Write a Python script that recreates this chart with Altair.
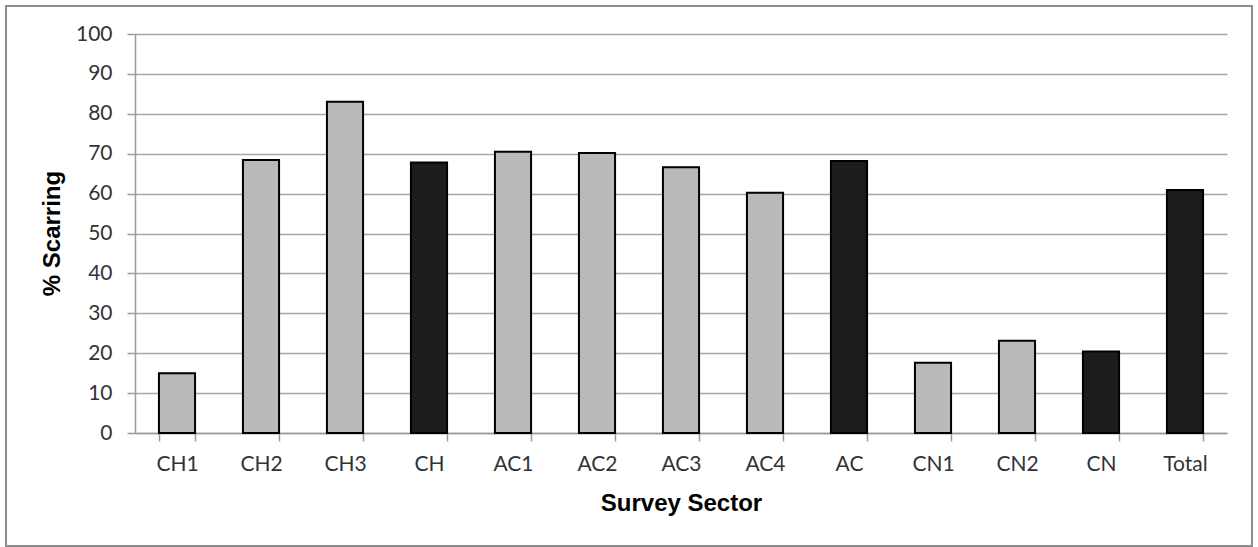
import altair as alt
import pandas as pd

# Survey sectors, scarring percentages and whether each bar is a sector total
sectors = ["CH1", "CH2", "CH3", "CH", "AC1", "AC2", "AC3", "AC4", "AC", "CN1", "CN2", "CN", "Total"]
scarring = [15.0, 68.4, 83.0, 67.8, 70.5, 70.2, 66.6, 60.2, 68.2, 17.6, 23.1, 20.4, 60.9]
kind = ["sub", "sub", "sub", "all", "sub", "sub", "sub", "sub", "all", "sub", "sub", "all", "all"]

df = pd.DataFrame({"sector": sectors, "pct": scarring, "kind": kind})

label_font = "Lato"
title_font = "Liberation Sans"

bars = alt.Chart(df).mark_bar(stroke="black", strokeWidth=2).encode(
    x=alt.X(
        "sector:N",
        sort=sectors,
        title="Survey Sector",
        scale=alt.Scale(paddingInner=0.57, paddingOuter=0.285),
        axis=alt.Axis(
            labelAngle=0,
            labelFont=label_font,
            labelFontSize=21,
            labelColor="#333333",
            labelPadding=12,
            tickBand="extent",
            tickSize=8,
            tickColor="#9a9a9a",
            tickWidth=1.5,
            domainColor="#9a9a9a",
            domainWidth=1.5,
            titleFont=title_font,
            titleFontSize=24,
            titleFontWeight="bold",
            titleColor="black",
            titleBaseline="middle",
            titleY=70,
        ),
    ),
    y=alt.Y(
        "pct:Q",
        title="% Scarring",
        scale=alt.Scale(domain=[0, 100], nice=False),
        axis=alt.Axis(
            values=list(range(0, 101, 10)),
            labelFont=label_font,
            labelFontSize=21,
            labelColor="#333333",
            labelPadding=15,
            tickSize=8,
            tickColor="#9a9a9a",
            tickWidth=1.5,
            domainColor="#9a9a9a",
            domainWidth=1.5,
            gridColor="#a6a6a6",
            gridWidth=1.5,
            titleFont=title_font,
            titleFontSize=24,
            titleFontWeight="bold",
            titleColor="black",
            titleAngle=-90,
            titleBaseline="middle",
            titleX=-83,
            titleY=199,
        ),
    ),
    color=alt.Color(
        "kind:N",
        scale=alt.Scale(domain=["sub", "all"], range=["#b9b9b9", "#1c1c1c"]),
        legend=None,
    ),
)

# Grey frame around the whole figure
frame = alt.Chart(pd.DataFrame({"f": [0]})).mark_rect(
    fill="transparent", stroke="#8c8c8c", strokeWidth=2
).encode(
    x=alt.value(-129), x2=alt.value(1117), y=alt.value(-28), y2=alt.value(512)
)

chart = (
    alt.layer(bars, frame)
    .properties(
        width=1092,
        height=399,
        padding={"left": 135, "top": 34, "right": 31, "bottom": 114},
        autosize=alt.AutoSizeParams(type="none"),
        background="white",
    )
    .configure_view(stroke=None)
)

chart.save("out.html", embed_options={"renderer": "svg", "actions": False})
